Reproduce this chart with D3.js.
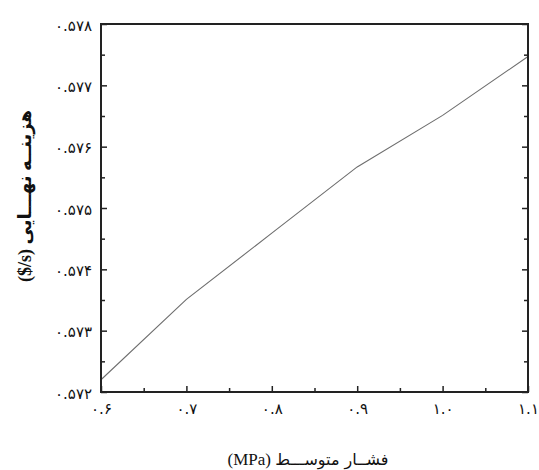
<!DOCTYPE html>
<html>
<head>
<meta charset="utf-8">
<script src="https://cdn.jsdelivr.net/npm/d3@7"></script>
<style>
  html, body { margin: 0; padding: 0; background: #fff; }
  svg { display: block; }
  text { font-family: "DejaVu Sans", sans-serif; }
</style>
</head>
<body>
<svg id="chart" width="539" height="470"></svg>
<script>
// Mean pressure (MPa) vs. final cost ($/s)
const pressure = [0.6, 0.7, 0.8, 0.9, 1.0, 1.1];
const finalCost = [0.57220, 0.57351, 0.57459, 0.57567, 0.57651, 0.57747];

const xTicks = [0.6, 0.7, 0.8, 0.9, 1.0, 1.1];
const xTickLabels = ["۰.۶", "۰.۷", "۰.۸", "۰.۹", "۱.۰", "۱.۱"];
const yTicks = [0.572, 0.573, 0.574, 0.575, 0.576, 0.577, 0.578];
const yTickLabels = ["۰.۵۷۲", "۰.۵۷۳", "۰.۵۷۴", "۰.۵۷۵", "۰.۵۷۶", "۰.۵۷۷", "۰.۵۷۸"];

// Titles written in visual order inside an LTR paragraph so the unit stays "($/s)"
const xTitleUnit = "(MPa) ";
const xTitleText = "فشــار متوســـط";
const yTitle = "($/s) هزینــه نهـــایی";

const W = 539, H = 470;
const margin = { top: 24, right: 11, bottom: 78, left: 101 };
const iw = W - margin.left - margin.right;
const ih = H - margin.top - margin.bottom;

const svg = d3.select("#chart");
const g = svg.append("g").attr("transform", `translate(${margin.left},${margin.top})`);

const x = d3.scaleLinear().domain([0.6, 1.1]).range([0, iw]);
const y = d3.scaleLinear().domain([0.572, 0.578]).range([ih, 0]);

const xMinor = d3.range(0, 5).map(i => 0.65 + i * 0.1);
const yMinor = d3.range(0, 6).map(i => 0.5725 + i * 0.001);

// Data line
g.append("path")
  .datum(pressure.map((p, i) => [p, finalCost[i]]))
  .attr("fill", "none")
  .attr("stroke", "#6e6e6e")
  .attr("stroke-width", 1.1)
  .attr("d", d3.line().x(d => x(d[0])).y(d => y(d[1])));

// Bottom axis: inward ticks
const xAxis = d3.axisBottom(x).tickValues(xTicks)
  .tickSize(-6).tickPadding(11)
  .tickFormat((d, i) => xTickLabels[i]);
const gx = g.append("g").attr("transform", `translate(0,${ih})`).call(xAxis);
gx.select(".domain").remove();
gx.selectAll(".tick line").attr("stroke", "#222").attr("stroke-width", 1.5);
gx.selectAll(".tick text").attr("font-size", 15).attr("fill", "#111");
g.append("g").attr("transform", `translate(0,${ih})`)
  .call(d3.axisBottom(x).tickValues(xMinor).tickSize(-4).tickFormat(""))
  .call(s => s.select(".domain").remove())
  .selectAll(".tick line").attr("stroke", "#222").attr("stroke-width", 1.5);

// Left axis: inward ticks
const yAxis = d3.axisLeft(y).tickValues(yTicks)
  .tickSize(-6).tickPadding(9)
  .tickFormat((d, i) => yTickLabels[i]);
const gy = g.append("g").call(yAxis);
gy.select(".domain").remove();
gy.selectAll(".tick line").attr("stroke", "#222").attr("stroke-width", 1.5);
gy.selectAll(".tick text").attr("font-size", 15).attr("fill", "#111").attr("dy", "0.4em");
g.append("g")
  .call(d3.axisLeft(y).tickValues(yMinor).tickSize(-4).tickFormat(""))
  .call(s => s.select(".domain").remove())
  .selectAll(".tick line").attr("stroke", "#222").attr("stroke-width", 1.5);

// Right axis: inward ticks, no labels
g.append("g").attr("transform", `translate(${iw},0)`)
  .call(d3.axisRight(y).tickValues(yTicks).tickSize(-6).tickFormat(""))
  .call(s => s.select(".domain").remove())
  .selectAll(".tick line").attr("stroke", "#222").attr("stroke-width", 1.5);
g.append("g").attr("transform", `translate(${iw},0)`)
  .call(d3.axisRight(y).tickValues(yMinor).tickSize(-4).tickFormat(""))
  .call(s => s.select(".domain").remove())
  .selectAll(".tick line").attr("stroke", "#222").attr("stroke-width", 1.5);

// Frame
g.append("rect")
  .attr("x", 0).attr("y", 0).attr("width", iw).attr("height", ih)
  .attr("fill", "none").attr("stroke", "#222").attr("stroke-width", 2);

// Axis titles
const xt = svg.append("text")
  .attr("x", 308).attr("y", 465)
  .attr("text-anchor", "middle")
  .attr("direction", "ltr")
  .attr("font-size", 17)
  .attr("fill", "#111");
xt.append("tspan").style("font-family", "'Liberation Serif', serif").text(xTitleUnit);
xt.append("tspan").style("font-family", "'DejaVu Sans', sans-serif").attr("font-size", 16).text(xTitleText);

svg.append("text")
  .attr("transform", `translate(31,196) rotate(-90)`)
  .attr("text-anchor", "middle")
  .attr("direction", "ltr")
  .attr("font-size", 18)
  .attr("font-weight", "bold")
  .attr("fill", "#111")
  .style("font-family", "'Liberation Serif', 'DejaVu Sans', serif")
  .text(yTitle);
</script>
</body>
</html>
